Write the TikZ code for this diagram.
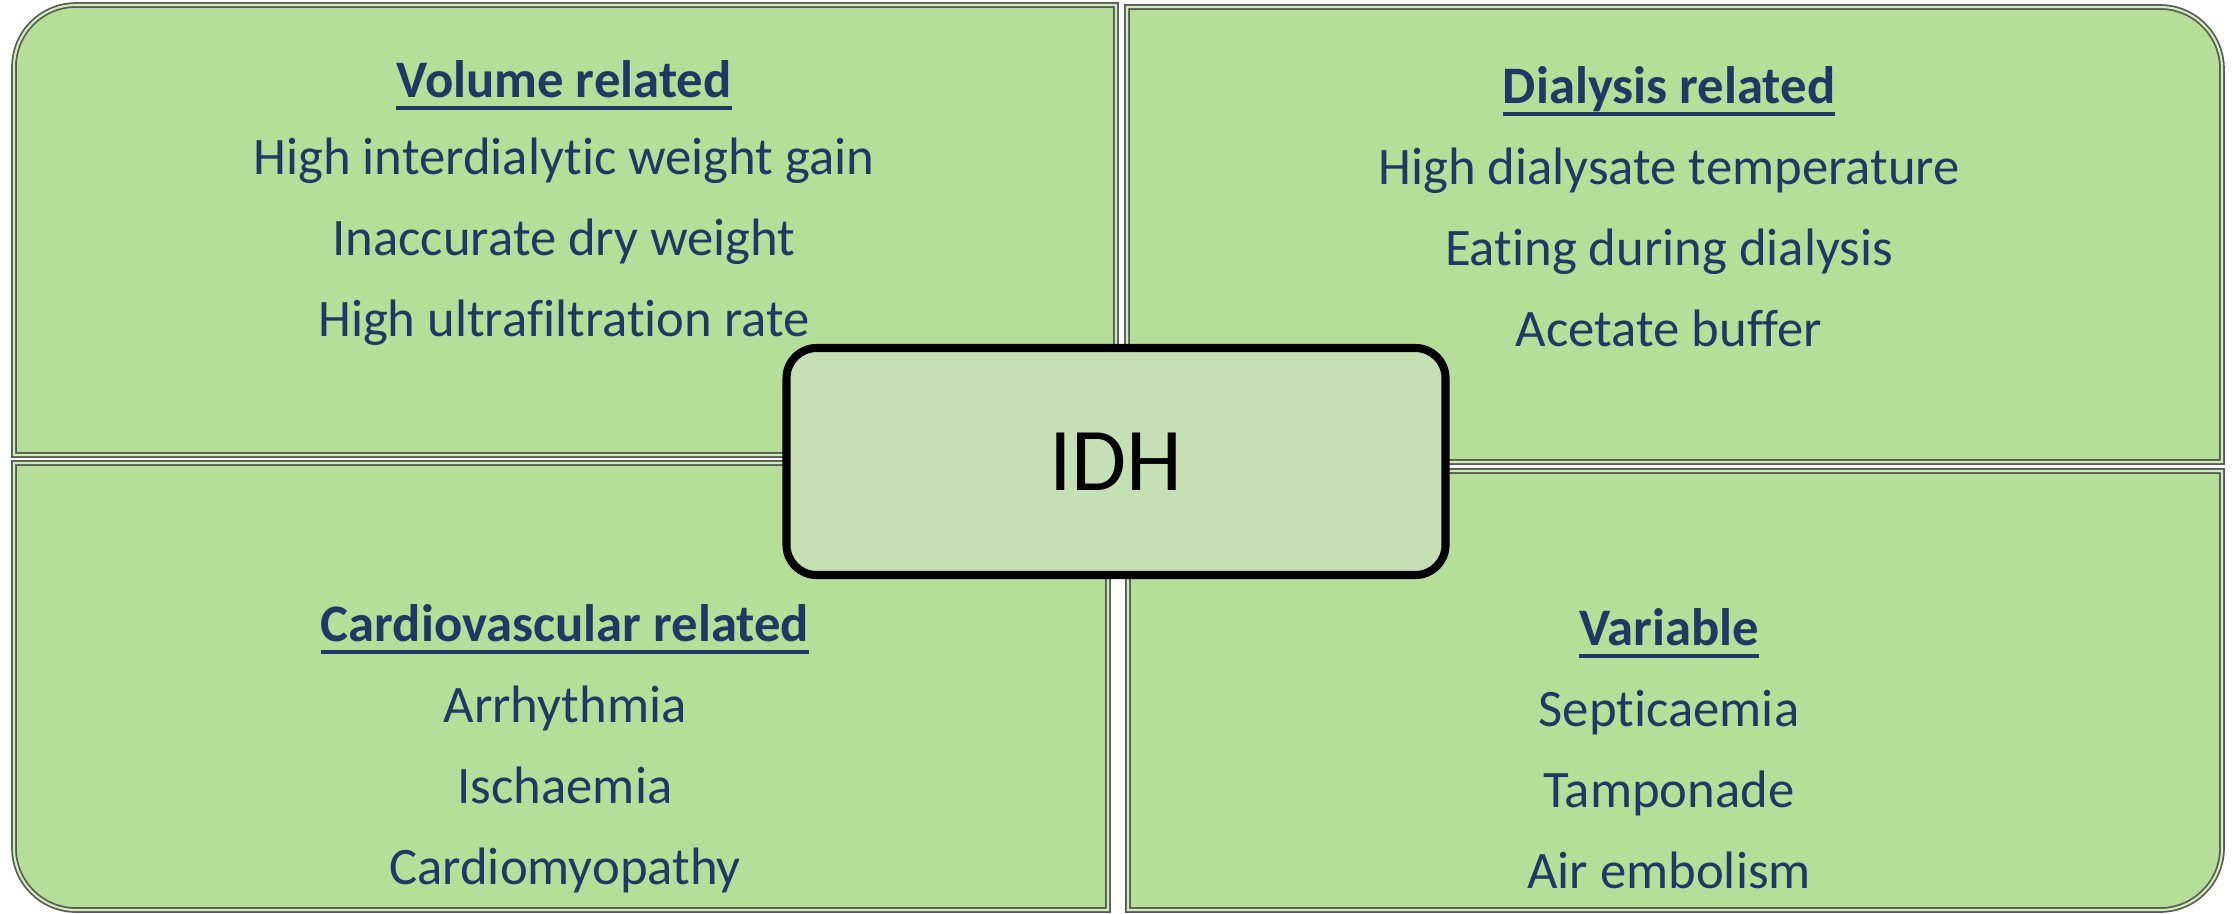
\documentclass[tikz,border=0pt]{standalone}
\usepackage{fontspec}
\setmainfont{Carlito}[Ligatures=NoCommon]
\usepackage{xcolor}

\definecolor{panelfill}{RGB}{181,222,152}
\definecolor{panelhi}{RGB}{205,238,182}
\definecolor{idhfill}{RGB}{197,224,180}
\definecolor{navy}{RGB}{32,56,100}

% bold heading with a flat underline
\newcommand{\hdr}[1]{\setbox0\hbox{\bfseries #1}\rlap{\rule[-3.6pt]{\wd0}{1.1pt}}\box0}

\tikzset{
  panel/.style={fill=panelfill, draw=black!65, double=panelhi, double distance=0.6pt, line width=0.5pt},
  txt/.style={align=center, text=navy, inner sep=0pt, font=\fontsize{15}{23}\selectfont},
  idhbox/.style={draw=black, fill=idhfill, line width=2.3pt, rounded corners=3mm,
    minimum width=65.9mm, minimum height=22.7mm, font=\fontsize{25.5}{30}\selectfont}
}

\begin{document}
\begin{tikzpicture}[x=0.1mm, y=0.1mm]
        \useasboundingbox (0,0) rectangle (2233,913);
        % four quadrants
        \draw[panel] (1116,458) -- (14,458) -- (14,846) arc[start angle=180, end angle=90, radius=6.2mm] -- (1116,908) -- cycle;
        \draw[panel] (1127,451) -- (1127,906) -- (2160,906) arc[start angle=90, end angle=0, radius=6.2mm] -- (2222,451) -- cycle;
        \draw[panel] (1108,450) -- (14,450) -- (14,65) arc[start angle=180, end angle=270, radius=6.2mm] -- (1108,3) -- cycle;
        \draw[panel] (1128,442) -- (2222,442) -- (2222,65) arc[start angle=0, end angle=-90, radius=6.2mm] -- (1128,3) -- cycle;

        \node[txt] (vol) at (564,710) {\hdr{Volume related}\\[-1.1pt]High interdialytic weight gain\\Inaccurate dry weight\\High ultrafiltration rate};
        \node[txt] (dia) at (1669,706.5) {\hdr{Dialysis related}\\High dialysate temperature\\Eating during dialysis\\Acetate buffer};
        \node[txt] (card) at (565,164.5) {\hdr{Cardiovascular related}\\Arrhythmia\\Ischaemia\\Cardiomyopathy};
        \node[txt] (var) at (1669,164.5) {\hdr{Variable}\\Septicaemia\\Tamponade\\Air embolism};

        \node[idhbox] (idh) at (1116,451.5) {IDH};
\end{tikzpicture}
\end{document}
